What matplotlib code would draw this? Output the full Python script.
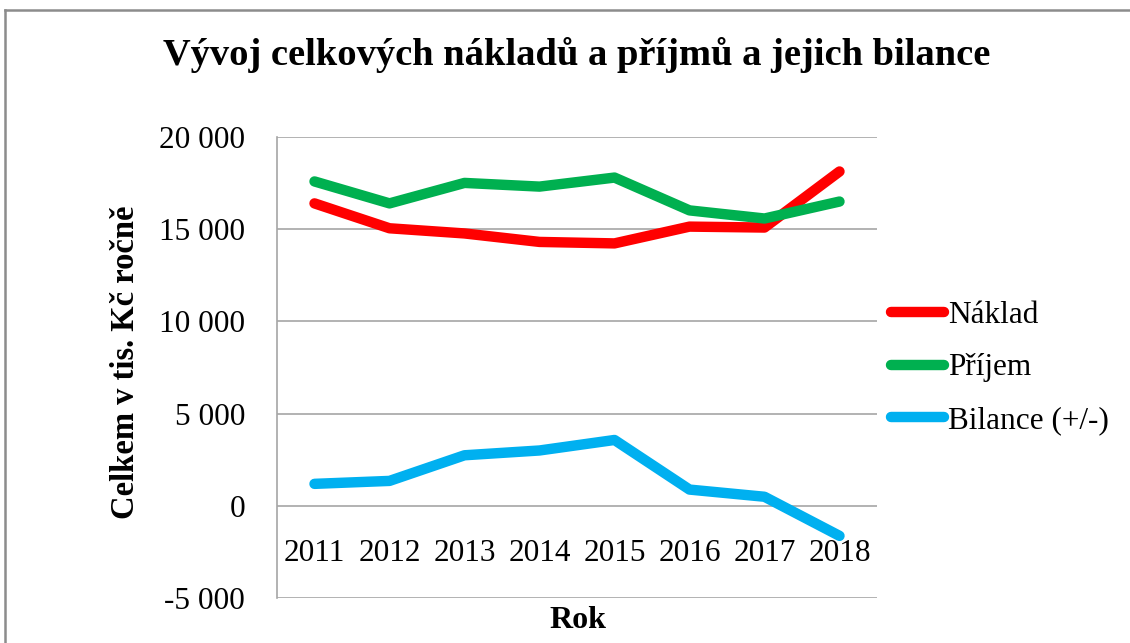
import matplotlib.pyplot as plt
from matplotlib.ticker import FuncFormatter, MultipleLocator
from matplotlib.lines import Line2D

# data
roky = ["2011", "2012", "2013", "2014", "2015", "2016", "2017", "2018"]
naklad = [16400, 15050, 14770, 14310, 14230, 15140, 15090, 18130]
prijem = [17590, 16400, 17510, 17310, 17800, 16020, 15580, 16500]
bilance = [1190, 1350, 2740, 3000, 3570, 880, 490, -1630]

plt.rcParams['font.family'] = ['Liberation Serif', 'DejaVu Serif']

fig = plt.figure(figsize=(11.3, 6.43), dpi=100)
ax = fig.add_axes([277/1130, 1-598/643, 600/1130, 461/643])

x = list(range(len(roky)))
ax.plot(x, naklad, color="#FF0000", lw=7.5, solid_capstyle="round", solid_joinstyle="round", label="Náklad")
ax.plot(x, prijem, color="#00B050", lw=7.5, solid_capstyle="round", solid_joinstyle="round", label="Příjem")
ax.plot(x, bilance, color="#00B0F0", lw=7.5, solid_capstyle="round", solid_joinstyle="round", label="Bilance (+/-)")

ax.set_xlim(-0.5, 7.5)
ax.set_ylim(-5000, 20000)
ax.yaxis.set_major_locator(MultipleLocator(5000))
ax.yaxis.set_major_formatter(FuncFormatter(lambda v, p: f"{v:,.0f}".replace(",", " ")))
ax.set_xticks(x)
ax.set_xticklabels(roky)

ax.grid(axis="y", color="#A6A6A6", lw=1.2)
ax.set_axisbelow(True)
for s in ["top", "right"]:
    ax.spines[s].set_visible(False)
ax.spines["bottom"].set_position(("data", 0))
ax.spines["bottom"].set_visible(False)
ax.spines["left"].set_color("#A6A6A6")
ax.spines["left"].set_linewidth(1.2)
ax.tick_params(axis="both", length=0, labelsize=22.5)
ax.tick_params(axis="y", pad=23)
ax.tick_params(axis="x", pad=24)

fig.text(577/1130, 1-55/643, "Vývoj celkových nákladů a příjmů a jejich bilance",
         ha="center", va="center", fontsize=27.7, fontweight="bold")
fig.text(125/1130, 1-362/643, "Celkem v tis. Kč ročně", rotation=90,
         ha="center", va="center", fontsize=23.5, fontweight="bold")
fig.text(578/1130, 1-620/643, "Rok", ha="center", va="center", fontsize=23, fontweight="bold")

ax.legend(loc="center left", bbox_to_anchor=(891/1130, 1-368/643), bbox_transform=fig.transFigure,
          frameon=False, fontsize=22.5, handlelength=1.7, handletextpad=0.12, labelspacing=0.75,
          borderpad=0, borderaxespad=0)

# chart frame
fig.add_artist(Line2D([5/1130, 5/1130], [0, 1-10/643], transform=fig.transFigure, color="#8C8C8C", lw=1.8))
fig.add_artist(Line2D([5/1130, 1], [1-10/643, 1-10/643], transform=fig.transFigure, color="#8C8C8C", lw=1.8))

fig.savefig("out.png", dpi=100)
